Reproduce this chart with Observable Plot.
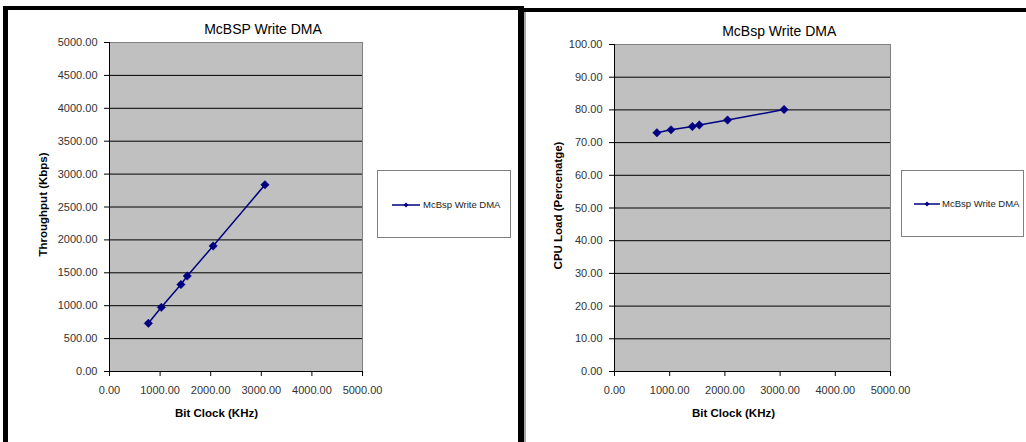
<!DOCTYPE html>
<html>
<head>
<meta charset="utf-8">
<script src="https://cdn.jsdelivr.net/npm/d3@7"></script>
<script src="https://cdn.jsdelivr.net/npm/@observablehq/plot@0.6"></script>
<style>
  html, body { margin: 0; padding: 0; background: #fff; }
  #page { position: relative; width: 1026px; height: 442px; overflow: hidden; font-family: "Liberation Sans", Arial, sans-serif; }
  .blk { position: absolute; background: #000; }
  .panel { position: absolute; top: 0; }
  .legend { position: absolute; border: 1px solid #808080; background: #fff; box-sizing: border-box; }
  .legend svg { position: absolute; left: 0; top: 0; }
  .legend span { position: absolute; font-size: 9.5px; color: #222; white-space: nowrap; line-height: 1; }
</style>
</head>
<body>
<div id="page">
  <div id="left" class="panel" style="left:0px"></div>
  <div id="right" class="panel" style="left:520px"></div>
</div>
<script>
// ---- data ----
const bitClock = [768, 1024, 1411.2, 1536, 2048, 3072];
const throughput = [732, 975, 1322, 1452, 1908, 2837];
const cpuLoad = [73.0, 73.9, 74.9, 75.4, 76.9, 80.1];

const xTicks = [0, 1000, 2000, 3000, 4000, 5000];
const yTicksThroughput = [0, 500, 1000, 1500, 2000, 2500, 3000, 3500, 4000, 4500, 5000];
const yTicksCpu = [0, 10, 20, 30, 40, 50, 60, 70, 80, 90, 100];

const seriesName = "McBsp Write DMA";
const titleLeft = "McBSP Write DMA";
const titleRight = "McBsp Write DMA";
const xLabel = "Bit Clock (KHz)";
const yLabelLeft = "Throughput (Kbps)";
const yLabelRight = "CPU Load (Percenatge)";

const navy = "#000080";
const fmt = d => d.toFixed(2);

function chart({values, yMax, yTicks, title, yLabel, width, margins, titleDx, xLabelDx, yLabelDx, yLabelDy}) {
  const data = bitClock.map((x, i) => ({x, y: values[i]}));
  return Plot.plot({
    width,
    height: 442,
    marginLeft: margins[0],
    marginRight: margins[1],
    marginTop: margins[2],
    marginBottom: margins[3],
    style: {fontFamily: "'Liberation Sans', Arial, sans-serif", fontSize: "11px", color: "#333", background: "transparent"},
    x: {domain: [0, 5000], axis: null},
    y: {domain: [0, yMax], axis: null},
    marks: [
      Plot.frame({fill: "#c0c0c0", stroke: null}),
      Plot.ruleY(yTicks.slice(1), {stroke: "#000", strokeWidth: 1}),
      Plot.frame({stroke: "#808080", strokeWidth: 1}),
      Plot.ruleX([0], {stroke: "#000", strokeWidth: 1}),
      Plot.ruleY([0], {stroke: "#000", strokeWidth: 1}),
      Plot.axisY({ticks: yTicks, tickFormat: fmt, tickSize: 5, tickPadding: 7, stroke: "#000", fill: "#333", label: null}),
      Plot.axisX({ticks: xTicks, tickFormat: fmt, tickSize: 5, tickPadding: 10, stroke: "#000", fill: "#333", label: null}),
      Plot.line(data, {x: "x", y: "y", stroke: navy, strokeWidth: 1.5}),
      Plot.dot(data, {x: "x", y: "y", symbol: "diamond2", r: 3.8, fill: navy, stroke: navy, strokeWidth: 0.5}),
      Plot.text([title], {frameAnchor: "top", dx: titleDx, dy: -13, fontSize: 14, fill: "#000", lineAnchor: "middle"}),
      Plot.text([xLabel], {frameAnchor: "bottom", dx: xLabelDx, dy: 42, fontSize: 11.5, fontWeight: "bold", fill: "#000", lineAnchor: "middle"}),
      Plot.text([yLabel], {frameAnchor: "left", dx: yLabelDx, dy: yLabelDy, rotate: -90, fontSize: 11.5, fontWeight: "bold", fill: "#000", lineAnchor: "middle", textAnchor: "middle", letterSpacing: "0.4px"})
    ]
  });
}

document.getElementById("left").appendChild(chart({
  values: throughput, yMax: 5000, yTicks: yTicksThroughput, title: titleLeft, yLabel: yLabelLeft,
  width: 520, margins: [109, 158, 42, 71], titleDx: 27, xLabelDx: -19.5, yLabelDx: -66, yLabelDy: -2.5
}));
document.getElementById("right").appendChild(chart({
  values: cpuLoad, yMax: 100, yTicks: yTicksCpu, title: titleRight, yLabel: yLabelRight,
  width: 506, margins: [94, 136, 44, 71], titleDx: 26.7, xLabelDx: -19, yLabelDx: -56, yLabelDy: -2.5
}));

const page = document.getElementById("page");
function addLegend(left, top, w, h, lineX0, lineX1, textX, midY) {
  const box = document.createElement("div");
  box.className = "legend";
  Object.assign(box.style, {left: left + "px", top: top + "px", width: w + "px", height: h + "px"});
  const ns = "http://www.w3.org/2000/svg";
  const svg = document.createElementNS(ns, "svg");
  svg.setAttribute("width", w); svg.setAttribute("height", h);
  const ln = document.createElementNS(ns, "line");
  ln.setAttribute("x1", lineX0 - left); ln.setAttribute("x2", lineX1 - left);
  ln.setAttribute("y1", midY - top); ln.setAttribute("y2", midY - top);
  ln.setAttribute("stroke", navy); ln.setAttribute("stroke-width", "1.5");
  svg.appendChild(ln);
  const cx = (lineX0 + lineX1) / 2 - left, cy = midY - top;
  const dm = document.createElementNS(ns, "path");
  dm.setAttribute("d", `M${cx},${cy-2.5}L${cx+2.5},${cy}L${cx},${cy+2.5}L${cx-2.5},${cy}Z`);
  dm.setAttribute("fill", navy);
  svg.appendChild(dm);
  box.appendChild(svg);
  const sp = document.createElement("span");
  sp.textContent = seriesName;
  Object.assign(sp.style, {left: (textX - left) + "px", top: (midY - top - 5.5) + "px"});
  box.appendChild(sp);
  page.appendChild(box);
}
addLegend(377, 170, 134, 68, 391, 419, 422, 204);
addLegend(901, 170, 123, 67, 913, 939, 941, 203);

// panel frames
function blk(l, t, w, h, c) {
  const d = document.createElement("div");
  d.className = "blk";
  Object.assign(d.style, {left: l + "px", top: t + "px", width: w + "px", height: h + "px"});
  if (c) d.style.background = c;
  page.appendChild(d);
}
blk(3, 6, 5, 436);
blk(3, 6, 518, 4);
blk(518, 6, 6, 436);
blk(521, 8, 505, 4);
blk(524, 12, 1.5, 430, "#a8a8a8");
</script>
</body>
</html>
